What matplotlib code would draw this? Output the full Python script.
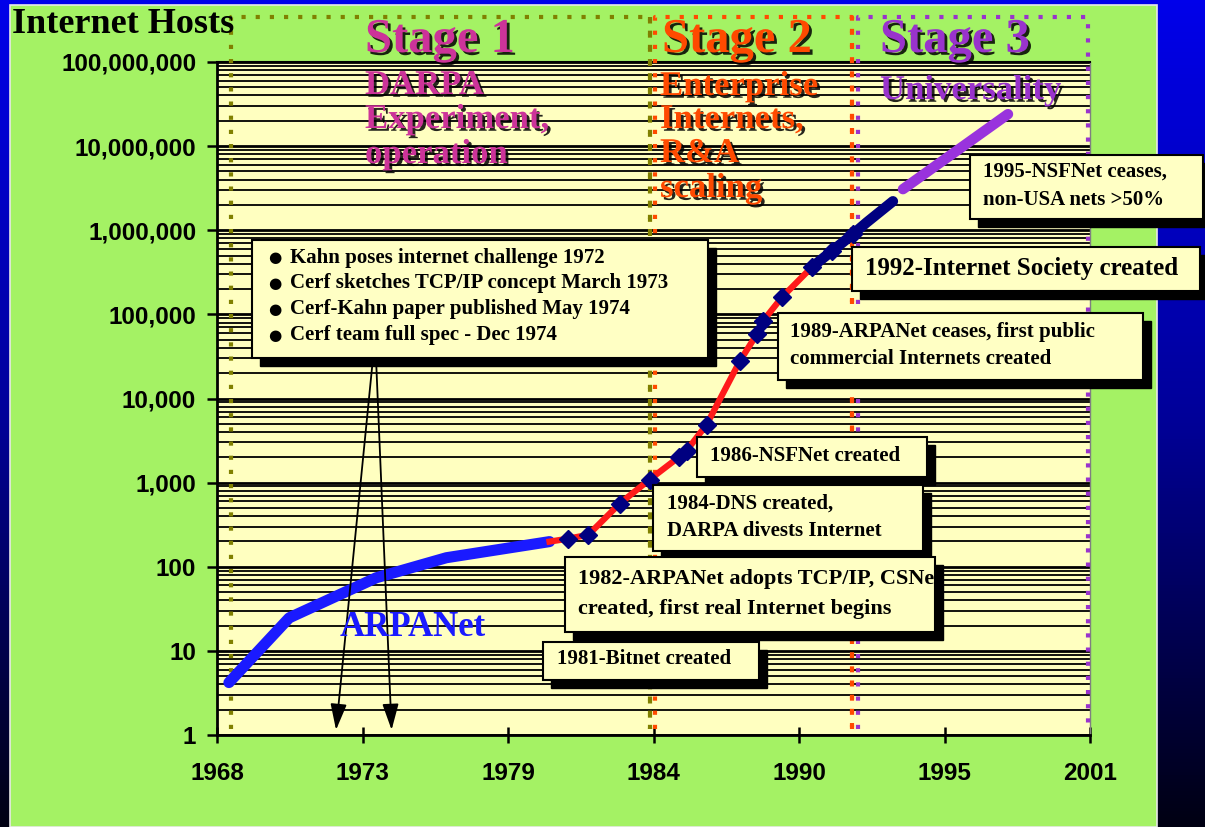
import numpy as np
import matplotlib
matplotlib.use('Agg')
import matplotlib.pyplot as plt
import matplotlib.patheffects as pe
from matplotlib.patches import Rectangle
from matplotlib.colors import LinearSegmentedColormap
from matplotlib.ticker import LogLocator, NullFormatter, FixedLocator

# --- data (year as placed on the axis, number of hosts) ---
arpa_years = [1968.45, 1970.73, 1974.02, 1976.67, 1980.57]
arpa_hosts = [4.2, 24.7, 74, 128, 199]

inet_years = [1980.57, 1981.25, 1982.04, 1983.22, 1984.35, 1985.45, 1985.75,
              1986.51, 1987.76, 1988.40, 1988.63, 1989.35, 1990.48, 1991.24, 1992.03]
inet_hosts = [199, 215, 240, 562, 1086, 2000, 2400,
              4900, 27700, 57800, 82600, 159000, 363000, 564000, 893000]

survey_years = [1990.48, 1991.24, 1992.03, 1992.56, 1993.55]
survey_hosts = [363000, 564000, 893000, 1240000, 2210000]

univ_years = [1993.93, 1997.90]
univ_hosts = [3080000, 24000000]

xtick_labels = ['1968', '1973', '1979', '1984', '1990', '1995', '2001']
ytick_vals = [1, 10, 100, 1000, 10000, 100000, 1000000, 10000000, 100000000]

stage_bounds = [(1968.53, 1984.35), (1984.54, 1992.0), (1992.22, 2000.93)]
event_arrow_years = [1972.5, 1974.6]

W, H = 1205, 827
serif = ['Liberation Serif', 'DejaVu Serif']
sans = ['Liberation Sans', 'DejaVu Sans']
green = '#A4F264'
yellow = '#FFFFC0'
olive = '#808000'
orange = '#FF4A00'
purple = '#9933CC'
magenta = '#CC3399'


def fp(x, y):
    return (x / W, 1 - y / H)


fig = plt.figure(figsize=(W / 100, H / 100), dpi=100)

# blue gradient backdrop and green panel
bg = fig.add_axes([0, 0, 1, 1], zorder=-5)
bg.axis('off')
grad = np.linspace(0, 1, 256).reshape(-1, 1)
cmap = LinearSegmentedColormap.from_list('bl', ['#0000EA', '#00009A', '#000012'])
bg.imshow(grad, aspect='auto', cmap=cmap, extent=[0, 1, 0, 1])
bg.add_patch(Rectangle((10 / W, 0), (1157 - 10) / W, (H - 5) / H, transform=bg.transAxes,
                       fc=green, ec='#E8E8E8', lw=1.2))
bg.set_xlim(0, 1)
bg.set_ylim(0, 1)

ax = fig.add_axes([217 / W, 92 / H, 873 / W, 673 / H])
ax.set_facecolor(yellow)
ax.set_yscale('log')
ax.set_xlim(1968, 2001)
ax.set_ylim(1, 1e8)

ax.yaxis.set_major_locator(FixedLocator(ytick_vals))
ax.set_yticklabels([f'{v:,}' for v in ytick_vals])
ax.yaxis.set_minor_locator(LogLocator(base=10, subs=range(2, 10), numticks=20))
ax.yaxis.set_minor_formatter(NullFormatter())
ax.set_xticks(np.linspace(1968, 2001, len(xtick_labels)))
ax.set_xticklabels(xtick_labels)

ax.yaxis.grid(True, which='major', color='k', lw=2.0)
ax.yaxis.grid(True, which='minor', color='k', lw=1.3)
ax.set_axisbelow(True)

ax.tick_params(axis='y', which='major', direction='out', length=7, width=1.8, pad=8)
ax.tick_params(axis='y', which='minor', length=0)
ax.tick_params(axis='x', direction='inout', length=11, width=1.8, pad=14)
for lab in ax.get_xticklabels() + ax.get_yticklabels():
    lab.set_fontfamily(sans)
    lab.set_fontweight('bold')
    lab.set_fontsize(17.5)

for s in ['left', 'bottom']:
    ax.spines[s].set_linewidth(2)
ax.spines['top'].set_linewidth(1.5)
ax.spines['right'].set_color('#808080')
ax.spines['right'].set_linewidth(1)

# stage boxes (dotted)
xt = ax.get_xaxis_transform()
top_y = (735 - 17) / 673
bot_y = (735 - 729) / 673
dots = (0, (1, 2.4))
for (x0, x1), c in zip(stage_bounds, [olive, orange, purple]):
    ax.plot([x0, x0, x1, x1], [bot_y, top_y, top_y, bot_y], transform=xt, color=c,
            lw=3.0, ls=dots, clip_on=False, zorder=3)
ax.plot([stage_bounds[0][1]] * 2, [bot_y, top_y], transform=xt, color=olive, lw=3.0,
        ls=dots, clip_on=False, zorder=3)
ax.plot([stage_bounds[1][1]] * 2, [bot_y, top_y], transform=xt, color=orange, lw=3.0,
        ls=dots, clip_on=False, zorder=3)

# growth curve
ax.plot(arpa_years, arpa_hosts, color='#1A1AFF', lw=8, solid_capstyle='round', zorder=4)
ax.plot(inet_years, inet_hosts, color='#FF1A1A', lw=4.5, zorder=4)
ax.plot(inet_years[1:], inet_hosts[1:], ls='none', marker='D', ms=9.5, color='#000080', zorder=5)
ax.plot(survey_years, survey_hosts, color='#000080', lw=7.5, solid_capstyle='round', zorder=5)
ax.plot(univ_years, univ_hosts, color='#9933DD', lw=7.5, solid_capstyle='round', zorder=5)

# arrows from the early-history box
for yr, sx in zip(event_arrow_years, [373, 376]):
    ax.annotate('', xy=(yr, 1.15), xycoords='data', xytext=fp(sx, 358),
                textcoords='figure fraction', annotation_clip=False,
                arrowprops=dict(arrowstyle='-|>,head_length=1.6,head_width=0.5',
                                color='k', lw=1.3, shrinkA=0, shrinkB=0), zorder=6)

shadow = [pe.withSimplePatchShadow(offset=(2, -2), shadow_rgbFace='k', alpha=0.85)]

fig.text(*fp(12, 33), 'Internet Hosts', ha='left', va='baseline', fontsize=26,
         fontweight='bold', family=serif, zorder=8)

stage_titles = ['Stage 1', 'Stage 2', 'Stage 3']
stage_subs = [['DARPA', 'Experiment,', 'operation'],
              ['Enterprise', 'Internets,', 'R&A', 'scaling'],
              ['Universality']]
stage_x = [365, 662, 880]
sub_x = [365, 660, 880]
sub_base = [[94, 128, 163], [95, 128, 162, 197], [99]]
for title, subs, c, tx, sx, bases in zip(stage_titles, stage_subs, [magenta, orange, purple],
                                          stage_x, sub_x, sub_base):
    fig.text(*fp(tx, 52), title, ha='left', va='baseline', fontsize=35, fontweight='bold',
             family=serif, color=c, path_effects=shadow, zorder=8)
    for s, b in zip(subs, bases):
        fig.text(*fp(sx, b), s, ha='left', va='baseline', fontsize=25, fontweight='bold',
                 family=serif, color=c, path_effects=shadow, zorder=8)

fig.text(*fp(340, 636), 'ARPANet', ha='left', va='baseline', fontsize=25, fontweight='bold',
         family=serif, color='#1A1AFF', zorder=8)


def note_box(x0, y0, x1, y1, lines, tx, tys, size=15, bullets=False):
    w, h = (x1 - x0) / W, (y1 - y0) / H
    fig.add_artist(Rectangle(fp(x0 + 8, y1 + 8), w, h, transform=fig.transFigure,
                             fc='k', ec='k', zorder=5))
    fig.add_artist(Rectangle(fp(x0, y1), w, h, transform=fig.transFigure,
                             fc='#FFFFC4', ec='k', lw=1.5, zorder=6))
    for line, ty in zip(lines, tys):
        if bullets:
            fig.text(*fp(tx - 22, ty), '\u25CF', ha='left', va='center', fontsize=11,
                     family=['DejaVu Sans'], zorder=7)
        fig.text(*fp(tx, ty), line, ha='left', va='center', fontsize=size,
                 fontweight='bold', family=serif, zorder=7)


note_box(252, 240, 708, 358,
         ['Kahn poses internet challenge 1972', 'Cerf sketches TCP/IP concept March 1973',
          'Cerf-Kahn paper published May 1974', 'Cerf team full spec - Dec 1974'],
         290, [258, 283, 309, 335], bullets=True)
note_box(970, 155, 1203, 219, ['1995-NSFNet ceases,', 'non-USA nets >50%'], 983, [172, 200])
note_box(852, 247, 1200, 291, ['1992-Internet Society created'], 865, [268], size=18)
note_box(778, 313, 1143, 380, ['1989-ARPANet ceases, first public',
                               'commercial Internets created'], 790, [332, 359])
note_box(697, 437, 927, 477, ['1986-NSFNet created'], 710, [456])
note_box(653, 485, 923, 551, ['1984-DNS created,', 'DARPA divests Internet'], 667, [504, 531])
note_box(565, 557, 935, 632, ['1982-ARPANet adopts TCP/IP, CSNet',
                              'created, first real Internet begins'], 578, [579, 609], size=16)
note_box(543, 642, 759, 680, ['1981-Bitnet created'], 557, [659])

plt.savefig('out.png', dpi=100)
